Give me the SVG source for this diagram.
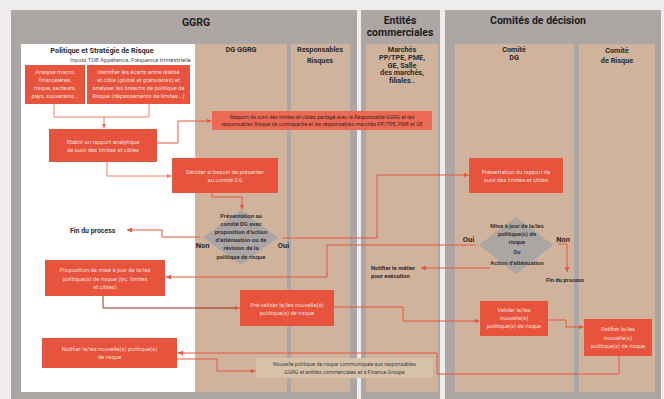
<svg xmlns="http://www.w3.org/2000/svg" width="664" height="399" viewBox="0 0 664 399">
<defs>
<style>
text{font-family:Roboto,"Liberation Sans",sans-serif}
.hdr{font-size:10.5px;font-weight:bold;fill:#1c1c1c;text-anchor:middle}
.col{font-size:7.3px;font-weight:bold;fill:#2b2b2b;text-anchor:middle}
.bx{fill:#e8533d}
.bt{font-size:5.8px;fill:#fbded5;text-anchor:middle}
.dm{fill:#aba5a4}
.dt{font-size:5.9px;font-weight:bold;fill:#3a3434;text-anchor:middle}
.lb{font-size:6.9px;font-weight:bold;fill:#2e2a2a}
.lbs{font-size:5.8px;font-weight:bold;fill:#2e2a2a}
.yn{font-size:7.5px;font-weight:bold;fill:#2e2a2a;text-anchor:middle}
.sm{font-size:5.3px;text-anchor:middle}
.c{fill:none;stroke:#e8553f;stroke-width:1}
.cl{fill:none;stroke:#ee7e6c;stroke-width:1}
.cd{fill:none;stroke:#9e2a22;stroke-width:1}
</style>
<marker id="a" viewBox="0 0 5 5" refX="5" refY="2.5" markerWidth="5" markerHeight="5" markerUnits="userSpaceOnUse" orient="auto"><path d="M0,0 L5,2.5 L0,5 z" fill="#e8553f"/></marker>
<marker id="al" viewBox="0 0 5 5" refX="5" refY="2.5" markerWidth="5" markerHeight="5" markerUnits="userSpaceOnUse" orient="auto"><path d="M0,0 L5,2.5 L0,5 z" fill="#ee7e6c"/></marker>
</defs>

<rect x="0" y="0" width="664" height="399" fill="#efedec"/>

<g id="lanes">
<rect x="11" y="10" width="346" height="389" fill="#aca6a5"/>
<rect x="21" y="44" width="174" height="348" fill="#ffffff"/>
<rect x="195" y="44" width="92" height="348" fill="#cfb39d"/>
<rect x="291" y="44" width="59" height="348" fill="#cfb39d"/>
<rect x="361" y="10" width="79" height="389" fill="#aca6a5"/>
<rect x="366" y="44" width="72" height="348" fill="#cfb39d"/>
<rect x="445" y="10" width="216" height="389" fill="#aca6a5"/>
<rect x="455" y="44" width="119" height="348" fill="#cfb39d"/>
<rect x="579" y="44" width="76" height="348" fill="#cfb39d"/>
<text class="hdr" x="196" y="26">GGRG</text>
<text class="hdr" x="400" y="24">Entités</text>
<text class="hdr" x="400" y="36">commerciales</text>
<text class="hdr" x="538" y="24">Comités de décision</text>
<text class="col" x="102" y="53">Politique et Stratégie de Risque</text>
<text x="191" y="62" font-size="5.9" fill="#555" text-anchor="end">Inputs TDB Appétence, Fréquence trimestrielle</text>
<text class="col" x="241" y="52">DG GGRG</text>
<text class="col" x="320" y="52">Responsables</text>
<text class="col" x="320" y="63">Risques</text>
<text class="col" x="402" y="52">Marchés</text>
<text class="col" x="402" y="60">PP/TPE, PME,</text>
<text class="col" x="402" y="67.5">GE, Salle</text>
<text class="col" x="402" y="75">des marchés,</text>
<text class="col" x="402" y="82.5">filiales..</text>
<text class="col" x="514" y="52">Comité</text>
<text class="col" x="514" y="60">DG</text>
<text class="col" x="617" y="53">Comité</text>
<text class="col" x="617" y="63">de Risque</text>
</g>

<g id="connectors">
<path class="cl" d="M54,104 V117 H149 V104"/>
<path class="cl" d="M104,117 V128.5" marker-end="url(#al)"/>
<path class="c" d="M157,143 H178 V121 H211.5" marker-end="url(#a)"/>
<path class="cl" d="M107,162 V176 H171.5" marker-end="url(#al)"/>
<path class="c" d="M212,193 V197 H242 V209.5" marker-end="url(#a)"/>
<path class="c" d="M200,237 H162 V230 H127" marker-end="url(#a)"/>
<path class="c" d="M283,238 H377 V175 H468.5" marker-end="url(#a)"/>
<path class="c" d="M476,245 H327 V277 H166" marker-end="url(#a)"/>
<path class="c" d="M490,268 H421" marker-end="url(#a)"/>
<path class="c" d="M558,244 H567 V272" marker-end="url(#a)"/>
<path class="cd" d="M103,296 V308 H239.5" marker-end="url(#a)"/>
<path class="c" d="M334,307 H403 V321 H479.5" marker-end="url(#a)"/>
<path class="c" d="M548,320 H566 V327 H583.5" marker-end="url(#a)"/>
<path class="c" d="M619,356 V374 H437 V353 H178" marker-end="url(#a)"/>
<path class="c" d="M177,359 H217 V371 H255.5" marker-end="url(#a)"/>
</g>

<g id="n-analyse">
<rect class="bx" x="25" y="65" width="60" height="39"/>
<text class="bt" x="55" y="74">Analyse macro,</text>
<text class="bt" x="55" y="82">financeières,</text>
<text class="bt" x="55" y="90">risque, secteurs,</text>
<text class="bt" x="55" y="98">pays, souverains...</text>
</g>
<g id="n-identifier">
<rect class="bx" x="87" y="65" width="103" height="39"/>
<text class="bt" x="138.5" y="74">Identifier les écarts entre réalisé</text>
<text class="bt" x="138.5" y="82">et cible (global et granulaires) et</text>
<text class="bt" x="138.5" y="90">analyser les breachs de politique de</text>
<text class="bt" x="138.5" y="98">Risque (dépassements de limites...)</text>
</g>
<g id="n-etablir">
<rect class="bx" x="49" y="129" width="108" height="33"/>
<text class="bt" x="103" y="144">Etablir un rapport analytique</text>
<text class="bt" x="103" y="152">de suivi des limites et cibles</text>
</g>
<g id="n-rapport">
<rect x="212" y="111" width="220" height="19" fill="#ec6a55"/>
<text class="sm" x="322" y="119" fill="#4a2620">Rapport de suivi des limites et cibles partagé avec le Responsable GGRG et les</text>
<text class="sm" x="322" y="126" fill="#4a2620">responsables Risque de contrepartie et les responsables marchés PP/TPE, PME et GE</text>
</g>
<g id="n-decider">
<rect class="bx" x="172" y="158" width="106" height="35"/>
<text class="bt" x="225" y="174">Décider si besoin de présenter</text>
<text class="bt" x="225" y="182">au comité DG</text>
</g>
<g id="n-presentation-dg">
<polygon class="dm" points="241,210 278,237.5 241,265 203,237.5"/>
<text class="dt" x="241" y="218">Présentation au</text>
<text class="dt" x="241" y="226">comité DG avec</text>
<text class="dt" x="241" y="234">proposition d’action</text>
<text class="dt" x="241" y="242">d’atténuation ou de</text>
<text class="dt" x="241" y="250">révision de la</text>
<text class="dt" x="241" y="258.5">politique de risque</text>
<text class="yn" x="202.5" y="247.5">Non</text>
<text class="yn" x="283.5" y="247.5">Oui</text>
</g>
<g id="n-fin1">
<text class="lb" x="70" y="232.5">Fin du process</text>
</g>
<g id="n-presentation-rapport">
<rect class="bx" x="469" y="158" width="94" height="35"/>
<text class="bt" x="516" y="174">Présentation du rapport de</text>
<text class="bt" x="516" y="182">suivi des limites et cibles</text>
</g>
<g id="n-miseajour">
<polygon class="dm" points="516,217 553,245 516,274 479,245"/>
<text class="dt" x="517" y="227.5">Mise à jour de la/les</text>
<text class="dt" x="517" y="236">politique(s) de</text>
<text class="dt" x="517" y="244">risque</text>
<text class="dt" x="517" y="254">Ou</text>
<text class="dt" x="517" y="265">Action d’atténuation</text>
<text class="yn" x="468.5" y="242">Oui</text>
<text class="yn" x="563" y="242">Non</text>
</g>
<g id="n-notifier-metier">
<text class="lbs" x="371" y="270">Notifier le métier</text>
<text class="lbs" x="371" y="277.5">pour exécution</text>
</g>
<g id="n-fin2">
<text class="lbs" x="546" y="282">Fin du process</text>
</g>
<g id="n-proposition">
<rect class="bx" x="45" y="260" width="120" height="36"/>
<text class="bt" x="105" y="272">Proposition de mise à jour de la/les</text>
<text class="bt" x="105" y="280.5">politique(s) de risque (lyc. limites</text>
<text class="bt" x="105" y="288.5">et cibles)</text>
</g>
<g id="n-prevalider">
<rect class="bx" x="240" y="290" width="94" height="36"/>
<text class="bt" x="287" y="307">Pré-valider la/les nouvelle(s)</text>
<text class="bt" x="287" y="315">politique(s) de risque</text>
</g>
<g id="n-valider">
<rect class="bx" x="480" y="301" width="68" height="35"/>
<text class="bt" x="514" y="312">Valider la/les</text>
<text class="bt" x="514" y="320">nouvelle(s)</text>
<text class="bt" x="514" y="328">politique(s) de risque</text>
</g>
<g id="n-ratifier">
<rect class="bx" x="584" y="319" width="68" height="37"/>
<text class="bt" x="618" y="331">Ratifier la/les</text>
<text class="bt" x="618" y="340">nouvelle(s)</text>
<text class="bt" x="618" y="348">politique(s) de risque</text>
</g>
<g id="n-notifier">
<rect class="bx" x="42" y="338" width="135" height="30"/>
<text class="bt" x="109.5" y="351">Notifier la/les nouvelle(s) politique(s)</text>
<text class="bt" x="109.5" y="359">de risque</text>
</g>
<g id="n-nouvelle">
<rect x="256" y="358" width="177" height="20" fill="#d6c2a8"/>
<text class="sm" x="344.5" y="366" fill="#4a4242">Nouvelle politique de risque communiquée aux responsables</text>
<text class="sm" x="344.5" y="374" fill="#4a4242">GGRG et entités commerciales et à Finance Groupe</text>
</g>
</svg>
